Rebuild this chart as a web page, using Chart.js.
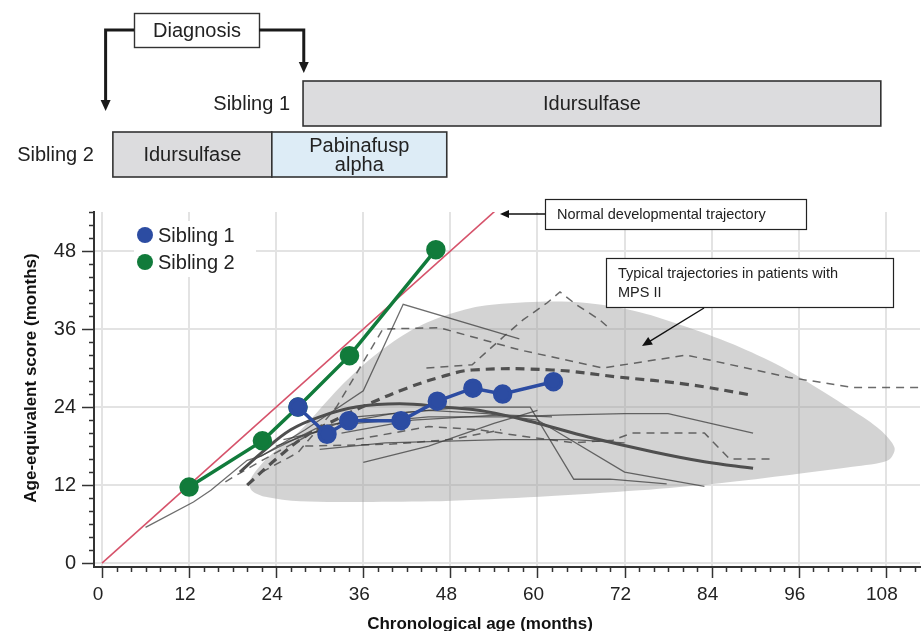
<!DOCTYPE html>
<html>
<head>
<meta charset="utf-8">
<script src="https://cdn.jsdelivr.net/npm/chart.js@4.4.0/dist/chart.umd.min.js"></script>
<style>
  html, body { margin: 0; padding: 0; background: #fff; }
  #wrap { width: 923px; height: 631px; }
</style>
</head>
<body>
<div id="wrap"><canvas id="chart" width="923" height="631"></canvas></div>
<script>
// ---- data (months) ----
const xTickLabels = [0, 12, 24, 36, 48, 60, 72, 84, 96, 108];
const yTickLabels = [0, 12, 24, 36, 48];

const sib1Age = [27, 31, 34, 41.2, 46.2, 51.1, 55.2, 62.2];
const sib1Score = [24, 19.8, 21.9, 21.9, 24.9, 26.9, 26, 27.9];
const sib2Age = [12, 22.1, 27, 34.1, 46];
const sib2Score = [11.7, 18.8, 24, 31.9, 48.2];

const normalAge = [0, 60];
const normalScore = [0, 60];

// outline of the shaded "typical MPS II" region
const regionAge = [46.6, 36, 27.3, 22.5, 20.7, 20.3, 21.3, 23, 27.3, 32.8, 37.3, 42, 46.6, 52.1, 60.3, 66.8,
  74.1, 80.6, 87.9, 94.4, 103.4, 107.2, 109.2, 108.3, 103.4, 95, 85.1, 74.1, 60.3, 46.6];
const regionScore = [9.5, 9.4, 9.5, 10.2, 11.1, 12.4, 14.3, 16.4, 20.4, 27.1, 31.7, 35.4, 37.8, 39.5, 40.2, 40,
  38.6, 36.3, 33.2, 29.7, 23.5, 20.5, 17.7, 15.8, 14.8, 13.6, 12.3, 11.2, 10.2, 9.5];

// individual patient trajectories
const thinSolidAge = [
  [6, 12.6, 15, 20, 22, 28, 36, 41.5, 57.5],
  [21, 30, 40, 50, 59, 65, 70, 77.8],
  [24, 35, 45, 53, 60, 72, 83],
  [25, 35, 45, 55, 64, 72, 78, 89.7],
  [30, 39, 55, 65, 72],
  [36, 45, 54, 60],
  [33, 42.8, 55, 62]
];
const thinSolidScore = [
  [5.5, 9.4, 11.2, 15.8, 16.5, 20.5, 26.5, 39.8, 34.5],
  [16, 21, 23, 24, 24, 12.9, 12.9, 12.2],
  [18, 22.5, 23.5, 23, 22, 14, 11.8],
  [19, 21.5, 22.5, 22.5, 22.8, 23, 23, 20],
  [17.5, 18.5, 19, 19, 18.5],
  [15.5, 18, 21.5, 23.5],
  [20, 22, 22.8, 22.5]
];
const thinDashedAge = [
  [22, 27, 32.3, 38.7, 46.5, 57.5, 69, 80.5, 94.5, 103.5, 113],
  [44.7, 51, 55.5, 58, 61.3, 63.1, 65.4, 68.6, 70],
  [35, 45, 52, 58, 65, 70.4, 73, 83, 86.5, 92],
  [28, 40, 48, 55],
  [17, 20, 24, 29, 34]
];
const thinDashedScore = [
  [14, 17, 24, 36, 36.2, 32.8, 30, 32, 28.6, 27, 27],
  [30, 30.5, 35, 37.4, 40, 41.7, 39.7, 37.4, 36],
  [19, 21, 20.5, 19.5, 18.5, 18.9, 20, 20, 16, 16],
  [18, 18.3, 19, 20.5],
  [12.5, 14.5, 17, 20, 22]
];
const meanSolidAge = [19, 22, 26, 30, 35, 41, 47, 53, 60, 67, 76, 83, 89.7];
const meanSolidScore = [14, 17, 20.5, 22.5, 24, 24.5, 24, 23.3, 21.5, 19.4, 17.1, 15.6, 14.6];
const meanDashedAge = [20, 24, 28, 33, 37, 42, 46.6, 51, 62, 71.3, 80.6, 89.7];
const meanDashedScore = [12, 16, 19.5, 22.5, 24.6, 26.9, 28.6, 29.7, 29.7, 28.6, 27.5, 25.8];

// treatment timeline (months)
const diagnosisAge = [27.8, 0.5];           // sibling 1, sibling 2
const sib1TreatStart = [27.7];
const sib1TreatEnd = [107.3];
const sib1TreatName = ['Idursulfase'];
const sib2TreatStart = [1.5, 23.4];
const sib2TreatEnd = [23.4, 47.5];
const sib2TreatName = [['Idursulfase'], ['Pabinafusp', 'alpha']];

// ---- drawing ----
const FONT = "'Liberation Sans', Arial, Helvetica, sans-serif";
const toPts = (xs, ys) => xs.map((v, i) => ({ x: v, y: ys[i] }));

const datasets = [
  { data: toPts(sib1Age, sib1Score), borderColor: '#2c4ca2', backgroundColor: '#2c4ca2',
    borderWidth: 3.5, pointRadius: 8, showLine: true },
  { data: toPts(sib2Age, sib2Score), borderColor: '#117b3b', backgroundColor: '#117b3b',
    borderWidth: 3.5, pointRadius: 8, showLine: true },
  { data: toPts(normalAge, normalScore), borderColor: '#d6536b', borderWidth: 1.6,
    pointRadius: 0, showLine: true },
  { data: toPts(meanSolidAge, meanSolidScore), borderColor: '#4f4f4f', borderWidth: 3,
    pointRadius: 0, showLine: true, tension: 0.4 },
  { data: toPts(meanDashedAge, meanDashedScore), borderColor: '#505050', borderWidth: 3.2,
    borderDash: [9, 6], pointRadius: 0, showLine: true, tension: 0.4 }
];
thinSolidAge.forEach((a, i) => datasets.push({
  data: toPts(a, thinSolidScore[i]), borderColor: 'rgba(60,60,60,0.75)', borderWidth: 1.3,
  pointRadius: 0, showLine: true
}));
thinDashedAge.forEach((a, i) => datasets.push({
  data: toPts(a, thinDashedScore[i]), borderColor: 'rgba(70,70,70,0.8)', borderWidth: 1.5,
  borderDash: [8, 6], pointRadius: 0, showLine: true
}));
datasets.push({
  data: toPts(regionAge, regionScore), borderWidth: 0, borderColor: 'rgba(0,0,0,0)',
  backgroundColor: 'rgba(150,150,150,0.42)', fill: 'shape', pointRadius: 0,
  showLine: true, tension: 0.3
});

function arrow(ctx, x1, y1, x2, y2, head) {
  const a = Math.atan2(y2 - y1, x2 - x1);
  ctx.beginPath();
  ctx.moveTo(x1, y1);
  ctx.lineTo(x2 - Math.cos(a) * head * 0.8, y2 - Math.sin(a) * head * 0.8);
  ctx.stroke();
  ctx.beginPath();
  ctx.moveTo(x2, y2);
  ctx.lineTo(x2 - head * Math.cos(a) + head * 0.45 * Math.sin(a), y2 - head * Math.sin(a) - head * 0.45 * Math.cos(a));
  ctx.lineTo(x2 - head * Math.cos(a) - head * 0.45 * Math.sin(a), y2 - head * Math.sin(a) + head * 0.45 * Math.cos(a));
  ctx.closePath();
  ctx.fill();
}

function box(ctx, x1, y1, x2, y2, fill) {
  ctx.fillStyle = fill;
  ctx.fillRect(x1, y1, x2 - x1, y2 - y1);
  ctx.strokeRect(x1, y1, x2 - x1, y2 - y1);
}

const overlay = {
  id: 'overlay',
  afterDraw(chart) {
    const { ctx, chartArea: a } = chart;
    const sx = chart.scales.x, sy = chart.scales.y;
    ctx.save();

    // tick marks (major every 12, minor every 2)
    ctx.strokeStyle = '#333';
    ctx.lineWidth = 1.5;
    for (let v = 0; v <= 112; v += 2) {
      const px = Math.round(sx.getPixelForValue(v)) + 0.5;
      ctx.beginPath();
      ctx.moveTo(px, a.bottom);
      ctx.lineTo(px, a.bottom + (v % 12 === 0 ? 11 : 5));
      ctx.stroke();
    }
    for (let v = 0; v <= 54; v += 2) {
      const py = Math.round(sy.getPixelForValue(v)) + 0.5;
      ctx.beginPath();
      ctx.moveTo(a.left, py);
      ctx.lineTo(a.left - (v % 12 === 0 ? 12 : 5), py);
      ctx.stroke();
    }

    // axis titles
    ctx.fillStyle = '#111';
    ctx.font = 'bold 17px ' + FONT;
    ctx.textAlign = 'center';
    ctx.textBaseline = 'middle';
    ctx.fillText('Chronological age (months)', 480, 624);
    ctx.save();
    ctx.translate(31, 378);
    ctx.rotate(-Math.PI / 2);
    ctx.fillText('Age-equivalent score (months)', 0, 0);
    ctx.restore();

    // legend inside plot
    ctx.fillStyle = '#fff';
    ctx.fillRect(134, 221, 122, 56);
    ctx.font = '20px ' + FONT;
    ctx.textAlign = 'left';
    [['Sibling 1', '#2c4ca2', 235], ['Sibling 2', '#117b3b', 262]].forEach(([t, c, yy]) => {
      ctx.fillStyle = c;
      ctx.beginPath();
      ctx.arc(145, yy, 8, 0, Math.PI * 2);
      ctx.fill();
      ctx.fillStyle = '#222';
      ctx.fillText(t, 158, yy + 1);
    });

    // callout boxes
    ctx.strokeStyle = '#222';
    ctx.lineWidth = 1.2;
    box(ctx, 545.5, 199.5, 806.5, 229.5, '#fff');
    box(ctx, 606.5, 258.5, 893.5, 307.5, '#fff');
    ctx.fillStyle = '#222';
    ctx.font = '14.5px ' + FONT;
    ctx.fillText('Normal developmental trajectory', 557, 215);
    ctx.fillText('Typical trajectories in patients with', 618, 274);
    ctx.fillText('MPS II', 618, 293);
    ctx.fillStyle = '#111';
    ctx.strokeStyle = '#111';
    ctx.lineWidth = 1.4;
    arrow(ctx, 545, 214, 500, 214, 9);
    arrow(ctx, 704, 308, 642, 346, 10);

    // treatment timeline above the plot
    ctx.strokeStyle = '#333';
    ctx.lineWidth = 1.6;
    ctx.font = '20px ' + FONT;
    ctx.textAlign = 'center';
    const row1 = [81, 126], row2 = [132, 177];
    sib1TreatStart.forEach((s, i) => {
      const x1 = sx.getPixelForValue(s), x2 = sx.getPixelForValue(sib1TreatEnd[i]);
      box(ctx, x1, row1[0], x2, row1[1], '#dcdcde');
      ctx.fillStyle = '#222';
      ctx.fillText(sib1TreatName[i], (x1 + x2) / 2, (row1[0] + row1[1]) / 2 + 1);
    });
    sib2TreatStart.forEach((s, i) => {
      const x1 = sx.getPixelForValue(s), x2 = sx.getPixelForValue(sib2TreatEnd[i]);
      box(ctx, x1, row2[0], x2, row2[1], i === 0 ? '#dcdcde' : '#ddecf6');
      ctx.fillStyle = '#222';
      const lines = sib2TreatName[i];
      const mid = (row2[0] + row2[1]) / 2 + 1;
      lines.forEach((t, k) => ctx.fillText(t, (x1 + x2) / 2, mid + (k - (lines.length - 1) / 2) * 19));
    });
    ctx.textAlign = 'right';
    ctx.fillText('Sibling 1', sx.getPixelForValue(sib1TreatStart[0]) - 13, (row1[0] + row1[1]) / 2 + 1);
    ctx.fillText('Sibling 2', sx.getPixelForValue(sib2TreatStart[0]) - 19, (row2[0] + row2[1]) / 2 + 1);

    // diagnosis label with brackets
    ctx.lineWidth = 1.4;
    box(ctx, 134.5, 13.5, 259.5, 47.5, '#fff');
    ctx.fillStyle = '#222';
    ctx.textAlign = 'center';
    ctx.fillText('Diagnosis', 197, 31);
    ctx.strokeStyle = '#1a1a1a';
    ctx.fillStyle = '#1a1a1a';
    ctx.lineWidth = 3;
    const d1 = sx.getPixelForValue(diagnosisAge[0]);
    const d2 = sx.getPixelForValue(diagnosisAge[1]);
    [[d2, 134, row2[0] - 21], [d1, 259, row1[0] - 8]].forEach(([dx, bx, tip]) => {
      ctx.beginPath();
      ctx.moveTo(bx, 30);
      ctx.lineTo(dx, 30);
      ctx.lineTo(dx, tip - 9);
      ctx.stroke();
      ctx.beginPath();
      ctx.moveTo(dx - 5, tip - 11);
      ctx.lineTo(dx + 5, tip - 11);
      ctx.lineTo(dx, tip);
      ctx.closePath();
      ctx.fill();
    });

    ctx.restore();
  }
};

const gridColor = c => (c.tick && c.tick.value % 12 === 0 ? '#e3e3e3' : 'rgba(0,0,0,0)');
const evenTicks = (from, to) => s => {
  const t = [];
  for (let v = from; v <= to; v += 2) t.push({ value: v });
  s.ticks = t;
};

new Chart(document.getElementById('chart'), {
  type: 'scatter',
  data: { datasets },
  options: {
    responsive: false,
    animation: false,
    devicePixelRatio: 1,
    layout: { autoPadding: false, padding: { top: 212, right: 3, left: 0, bottom: 0 } },
    plugins: { legend: { display: false }, tooltip: { enabled: false } },
    scales: {
      x: {
        type: 'linear', min: -1.1, max: 112.7,
        afterBuildTicks: evenTicks(0, 112),
        afterFit: s => { s.height = 64; s.paddingLeft = 0; s.paddingRight = 0; },
        border: { color: '#333', width: 2 },
        grid: { color: gridColor, lineWidth: 2, drawTicks: false },
        ticks: {
          autoSkip: false, maxRotation: 0, padding: 16, color: '#222', labelOffset: -4,
          font: { family: FONT, size: 19 },
          callback: v => (xTickLabels.includes(v) ? String(v) : '')
        }
      },
      y: {
        type: 'linear', min: -0.6, max: 54,
        afterBuildTicks: evenTicks(0, 54),
        afterFit: s => { s.width = 94; s.paddingTop = 0; s.paddingBottom = 0; },
        border: { color: '#333', width: 2 },
        grid: { color: gridColor, lineWidth: 2, drawTicks: false },
        ticks: {
          autoSkip: false, padding: 18, color: '#222',
          font: { family: FONT, size: 20 },
          callback: v => (yTickLabels.includes(v) ? String(v) : '')
        }
      }
    }
  },
  plugins: [overlay]
});
</script>
</body>
</html>
